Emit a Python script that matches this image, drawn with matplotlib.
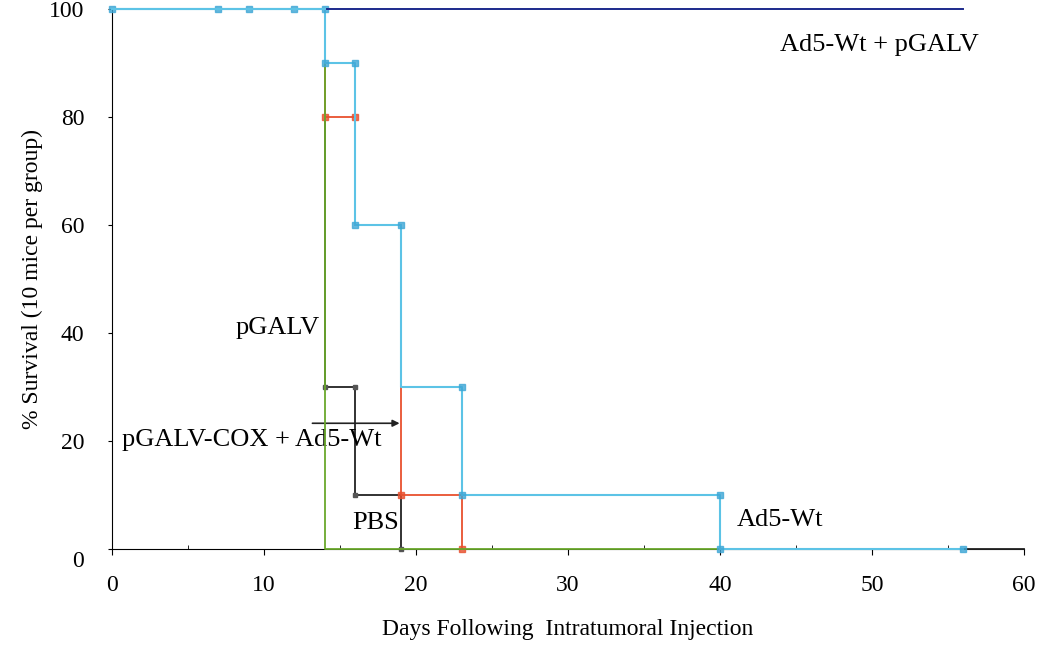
import matplotlib
matplotlib.use("Agg")
import matplotlib.pyplot as plt
import matplotlib.transforms as mtransforms

plt.rcParams['font.family'] = ['Liberation Serif', 'DejaVu Serif']

# Kaplan-Meier step data (days, % survival)
combo_days = [0, 56]
combo_surv = [100, 100]

ad5_days = [0, 14, 16, 19, 23, 40, 56]
ad5_surv = [100, 90, 60, 30, 10, 0, 0]
ad5_mark_days = [0, 7, 9, 12, 14, 14, 16, 16, 19, 23, 23, 40, 40, 56]
ad5_mark_surv = [100, 100, 100, 100, 100, 90, 90, 60, 60, 30, 10, 10, 0, 0]

pbs_days = [0, 14, 16, 19, 23]
pbs_surv = [100, 80, 60, 10, 0]
pbs_mark_days = [14, 16, 19, 23]
pbs_mark_surv = [80, 80, 10, 0]

pgalv_days = [0, 14, 40]
pgalv_surv = [100, 0, 0]

cox_days = [0, 14, 16, 19]
cox_surv = [100, 30, 10, 0]
cox_mark_days = [14, 16, 16, 19]
cox_mark_surv = [30, 30, 10, 0]

xticks = [0, 10, 20, 30, 40, 50, 60]
yticks = [0, 20, 40, 60, 80, 100]

fig = plt.figure(figsize=(10.51, 6.46), dpi=100)
ax = fig.add_axes([0.1066, 0.150, 0.8677, 0.836])

c_navy = '#1c2a8c'
c_sky = '#5cc3e6'
c_red = '#e8502e'
c_green = '#6aa82c'
c_black = '#222222'

ax.step(cox_days, cox_surv, where='post', color=c_black, lw=1.3, clip_on=False, zorder=2)
ax.plot(cox_mark_days, cox_mark_surv, 's', color='#555555', ms=3, clip_on=False, zorder=2)
ax.step(pbs_days, pbs_surv, where='post', color=c_red, lw=1.3, clip_on=False, zorder=3)
ax.plot(pbs_mark_days, pbs_mark_surv, 's', color=c_red, ms=4, alpha=0.8, clip_on=False, zorder=3)
ax.step(pgalv_days, pgalv_surv, where='post', color=c_green, lw=1.3, clip_on=False, zorder=4)
ax.step(ad5_days, ad5_surv, where='post', color=c_sky, lw=1.5, clip_on=False, zorder=5)
ax.plot(ad5_mark_days, ad5_mark_surv, 's', color='#3fa7d6', ms=4, alpha=0.8, clip_on=False, zorder=5)
ax.plot([56, 60], [0, 0], color=c_black, lw=1.3, clip_on=False, zorder=3)
ax.plot(combo_days, combo_surv, color=c_navy, lw=1.4, clip_on=False, zorder=6)
ax.plot([0, 14], [100, 100], color=c_sky, lw=1.5, clip_on=False, zorder=7)

ax.set_xlim(0, 60)
ax.set_ylim(0, 100)
ax.spines['top'].set_visible(False)
ax.spines['right'].set_visible(False)
ax.spines['left'].set_color('black')
ax.spines['bottom'].set_color('black')
ax.set_xticks(xticks)
ax.set_yticks(yticks)
ax.set_xticks(range(5, 60, 10), minor=True)
ax.tick_params(axis='x', which='major', direction='out', length=4, labelsize=17, pad=15)
ax.tick_params(axis='x', which='minor', direction='in', length=3)
ax.tick_params(axis='y', direction='out', length=3, labelsize=17, pad=17)
for lab in ax.get_yticklabels():
    if lab.get_text() == '0':
        lab.set_transform(lab.get_transform() + mtransforms.ScaledTranslation(0, -0.1, fig.dpi_scale_trans))

ax.set_xlabel('Days Following  Intratumoral Injection', fontsize=17, labelpad=16)
ax.set_ylabel('% Survival (10 mice per group)', fontsize=17, labelpad=4)

ax.text(43.95, 93.3, 'Ad5-Wt + pGALV', fontsize=19, ha='left', va='center')
ax.text(8.1, 40.9, 'pGALV', fontsize=19, ha='left', va='center')
ax.text(0.66, 20.2, 'pGALV-COX + Ad5-Wt', fontsize=19, ha='left', va='center')
ax.text(15.8, 4.8, 'PBS', fontsize=19, ha='left', va='center')
ax.text(41.1, 5.4, 'Ad5-Wt', fontsize=19, ha='left', va='center')
ax.annotate('', xy=(19.1, 23.3), xytext=(13, 23.3),
            arrowprops=dict(arrowstyle='-|>', color=c_black, lw=1.2, mutation_scale=10))

fig.savefig('out.png', dpi=100)
